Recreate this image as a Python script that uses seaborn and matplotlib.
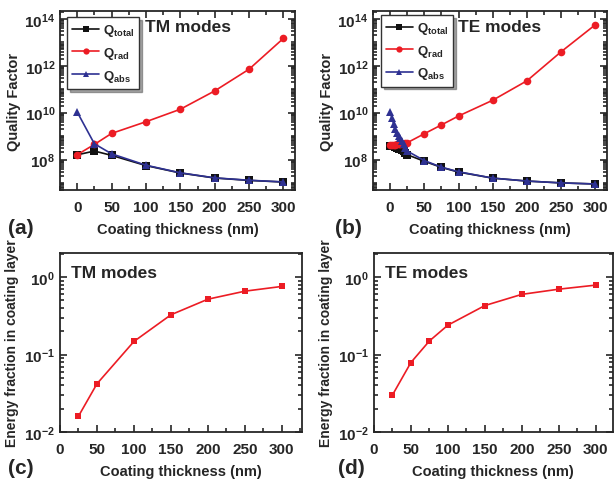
import numpy as np
import pandas as pd
import matplotlib
matplotlib.use('Agg')
from matplotlib import pyplot as plt
from matplotlib.ticker import FixedLocator, LogLocator, MultipleLocator, FuncFormatter, NullFormatter
import seaborn as sns

# --
# Data

tm_x = [0, 25, 50, 100, 150, 200, 250, 300]
tm_total = [1.58e8, 2.3e8, 1.5e8, 5.5e7, 2.65e7, 1.62e7, 1.28e7, 1.09e7]
tm_rad = [1.6e8, 4.4e8, 1.3e9, 4.1e9, 1.4e10, 8.5e10, 7.2e11, 1.5e13]
tm_abs = [1.07e10, 4.7e8, 1.75e8, 5.7e7, 2.7e7, 1.64e7, 1.3e7, 1.1e7]

te_x = [0, 2.5, 5, 7.5, 10, 12.5, 15, 17.5, 20, 22.5, 25, 50, 75, 100, 150, 200, 250, 300]
te_total = [3.9e8, 3.8e8, 3.6e8, 3.4e8, 3.1e8, 2.9e8, 2.7e8, 2.5e8, 2.2e8, 1.9e8, 1.6e8,
            8.4e7, 4.6e7, 2.9e7, 1.6e7, 1.2e7, 1.0e7, 9.0e6]
te_rad = [4.1e8, 4.15e8, 4.2e8, 4.3e8, 4.4e8, 4.5e8, 4.6e8, 4.7e8, 4.8e8, 5.0e8, 5.2e8,
          1.26e9, 3.0e9, 7.2e9, 3.4e10, 2.3e11, 4.0e12, 5.7e13]
te_abs = [1.1e10, 6.0e9, 3.4e9, 2.0e9, 1.4e9, 1.0e9, 8.0e8, 6.0e8, 4.4e8, 3.2e8, 2.3e8,
          9.0e7, 4.7e7, 3.0e7, 1.6e7, 1.2e7, 1.0e7, 9.0e6]

frac_tm_x = [25, 50, 100, 150, 200, 250, 300]
frac_tm = [0.016, 0.042, 0.148, 0.327, 0.52, 0.66, 0.76]
frac_te_x = [25, 50, 75, 100, 150, 200, 250, 300]
frac_te = [0.030, 0.079, 0.15, 0.24, 0.43, 0.60, 0.70, 0.79]

series_names = [r'$\mathbf{Q_{total}}$', r'$\mathbf{Q_{rad}}$', r'$\mathbf{Q_{abs}}$']

# --
# Style

sns.set_style('ticks')
plt.rcParams['font.family'] = ['Liberation Sans', 'DejaVu Sans']
plt.rcParams['font.weight'] = 'bold'
plt.rcParams['mathtext.fontset'] = 'custom'
plt.rcParams['mathtext.rm'] = 'Liberation Sans:bold'
plt.rcParams['mathtext.bf'] = 'Liberation Sans:bold'
plt.rcParams['mathtext.it'] = 'Liberation Sans:bold'
plt.rcParams['axes.linewidth'] = 1.3

RED = '#ec1c24'
BLUE = '#2e3192'
BLACK = '#111111'


def long_df(x, cols):
    rows = []
    for name, vals in zip(series_names, cols):
        for xi, yi in zip(x, vals):
            rows.append((xi, yi, name))
    return pd.DataFrame(rows, columns=['thickness', 'Q', 'series'])


def sci_fmt(v, pos):
    e = int(round(np.log10(v)))
    return r'$\mathbf{10^{%d}}$' % e


def style_axis(ax, xlim, ylim, major_y, tick_fs=11):
    ax.set_yscale('log')
    ax.set_xlim(*xlim)
    ax.set_ylim(*ylim)
    ax.xaxis.set_major_locator(MultipleLocator(50))
    ax.xaxis.set_minor_locator(MultipleLocator(25))
    ax.yaxis.set_major_locator(FixedLocator(major_y))
    ax.yaxis.set_major_formatter(FuncFormatter(sci_fmt))
    ax.yaxis.set_minor_locator(LogLocator(base=10, subs=np.arange(1, 10), numticks=40))
    ax.yaxis.set_minor_formatter(NullFormatter())
    ax.tick_params(which='both', direction='in', top=True, right=True, width=1.2)
    ax.tick_params(which='major', length=5, labelsize=tick_fs)
    ax.tick_params(axis='x', which='major', pad=7)
    ax.tick_params(which='minor', length=3)
    for lab in ax.get_xticklabels():
        lab.set_fontweight('bold')
    ax.set_xlabel('Coating thickness (nm)', fontsize=10.5, fontweight='bold', labelpad=6)


fig = plt.figure(figsize=(6.14, 4.81), dpi=100)

ax_a = fig.add_axes([0.0977, 0.603, 0.383, 0.372])
ax_b = fig.add_axes([0.6075, 0.603, 0.381, 0.372])
ax_c = fig.add_axes([0.0977, 0.0998, 0.394, 0.372])
ax_d = fig.add_axes([0.609, 0.0998, 0.389, 0.372])

palette = dict(zip(series_names, [BLACK, RED, BLUE]))
markers = dict(zip(series_names, ['s', 'o', '^']))

# --
# Quality factor panels

for ax, x, cols, title, tx, lx, ly in [
        (ax_a, tm_x, [tm_total, tm_rad, tm_abs], 'TM modes', 0.36, 0.03, 0.966),
        (ax_b, te_x, [te_total, te_rad, te_abs], 'TE modes', 0.365, 0.034, 0.978)]:
    df = long_df(x, cols)
    sns.lineplot(data=df, x='thickness', y='Q', hue='series', style='series',
                 palette=palette, markers=markers, dashes=False, markersize=5.5,
                 markeredgewidth=0, linewidth=1.2, ax=ax, legend=False)
    style_axis(ax, (-25, 317), (5e6, 2.2e14), [1e8, 1e10, 1e12, 1e14])
    ax.set_ylabel('Quality Factor', fontsize=10.5, fontweight='bold', labelpad=2)
    ax.text(tx, 0.916, title, transform=ax.transAxes, fontsize=12.5,
            fontweight='bold', va='center', ha='left')
    handles = [plt.Line2D([], [], color=palette[n], marker=markers[n], markersize=4.5,
                          markeredgewidth=0, linewidth=1.2) for n in series_names]
    leg = ax.legend(handles, series_names, loc='upper left', bbox_to_anchor=(lx, ly),
                    fontsize=9.5, frameon=True, fancybox=False, shadow=True,
                    edgecolor='#333333', handlelength=2.0, borderpad=0.4,
                    labelspacing=0.5, handletextpad=0.3, borderaxespad=0)
    leg.get_frame().set_linewidth(1.0)

# --
# Energy fraction panels

for ax, x, y, title, xmax in [(ax_c, frac_tm_x, frac_tm, 'TM modes', 327),
                              (ax_d, frac_te_x, frac_te, 'TE modes', 323)]:
    df = pd.DataFrame({'thickness': x, 'frac': y})
    sns.lineplot(data=df, x='thickness', y='frac', color=RED, marker='s',
                 markersize=5, markeredgewidth=0, linewidth=1.2, ax=ax)
    style_axis(ax, (0, xmax), (1e-2, 2.05), [1e-2, 1e-1, 1e0])
    ax.tick_params(which='both', top=False)
    ax.set_ylabel('Energy fraction in coating layer', fontsize=10, fontweight='bold', labelpad=4)
    ax.text(0.045, 0.89, title, transform=ax.transAxes, fontsize=12.5,
            fontweight='bold', va='center', ha='left')

for lab, x, y in [('(a)', 0.013, 0.505), ('(b)', 0.545, 0.505),
                  ('(c)', 0.013, 0.006), ('(d)', 0.55, 0.006)]:
    fig.text(x, y, lab, fontsize=15, fontweight='bold', ha='left', va='bottom')

fig.savefig('out.png', dpi=100)
